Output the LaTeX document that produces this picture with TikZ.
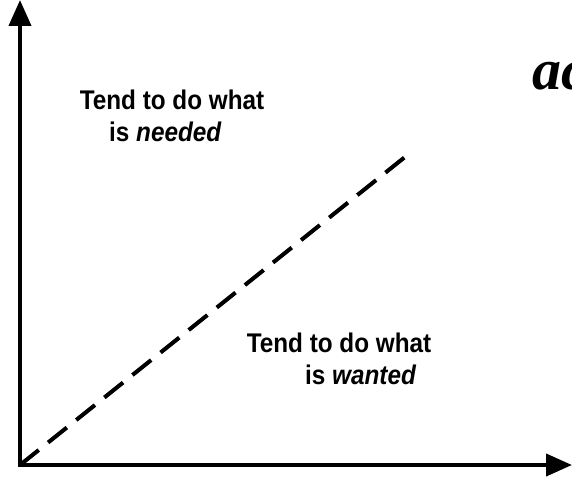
\documentclass[tikz,border=0pt]{standalone}
\usepackage{fontspec}
\setmainfont{Liberation Sans}
\newfontfamily\scriptfnt{Liberation Serif}
\usetikzlibrary{arrows.meta}
\newcommand{\narrowtxt}[1]{\scalebox{0.9}[1]{#1}}
\begin{document}
\begin{tikzpicture}[x=1pt,y=-1pt,
  axis/.style={line width=4pt,-{Triangle[length=26pt,width=22pt]}},
  diag/.style={line width=4pt,dash pattern=on 24pt off 12pt},
  lbl/.style={font=\fontsize{27}{30}\selectfont\bfseries,inner sep=0pt}]
\useasboundingbox (0,0) rectangle (572,489);
\clip (0,0) rectangle (572,489);
\coordinate (O) at (20,465);
\coordinate (Y) at (20,0);
\coordinate (X) at (572,465);
\coordinate (D) at (410,153);
\draw[axis] (O) -- (Y);
\draw[axis] ([xshift=-2pt]O) -- (X);
\draw[diag] (O) -- (D);
\node[lbl] (t1a) at (172,100) {\narrowtxt{Tend to do what}};
\node[lbl,anchor=west] (t1b) at (109,132) {\narrowtxt{is \textit{needed}}};
\node[lbl] (t2a) at (339,343) {\narrowtxt{Tend to do what}};
\node[lbl,anchor=west] (t2b) at (305,375) {\narrowtxt{is \textit{wanted}}};
\node[anchor=base west,inner sep=0pt,font=\scriptfnt\fontsize{58}{60}\selectfont\bfseries\itshape] (ac) at (532,90) {ac};
\end{tikzpicture}
\end{document}
